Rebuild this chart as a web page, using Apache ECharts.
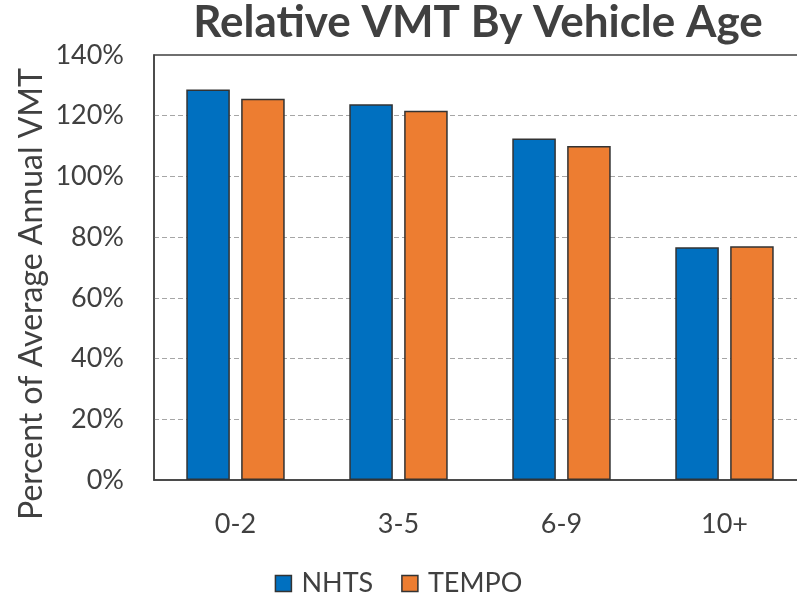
<!DOCTYPE html>
<html>
<head>
<meta charset="utf-8">
<script src="https://cdn.jsdelivr.net/npm/echarts@6/dist/echarts.min.js"></script>
<style>
  html, body { margin: 0; padding: 0; background: #fff; }
  #main { width: 797px; height: 596px; }
</style>
</head>
<body>
<div id="main"></div>
<script>
var categories = ['0-2', '3-5', '6-9', '10+'];
var nhts = [128.6, 123.8, 112.5, 76.7];
var tempo = [125.6, 121.6, 110.0, 77.0];
var yTicks = [0, 20, 40, 60, 80, 100, 120, 140];

var myChart = echarts.init(document.getElementById('main'));
var font = 'Lato';
var option = {
  title: {
    text: 'Relative VMT By Vehicle Age',
    left: 473,
    textAlign: 'center',
    top: -4,
    textStyle: {
      fontFamily: font,
      fontWeight: 'bold',
      fontSize: 44,
      color: '#404040'
    }
  },
  // 竖排的轴标题
  graphic: [{
    type: 'text',
    x: 32,
    y: 294,
    rotation: Math.PI / 2,
    style: {
      text: 'Percent of Average Annual VMT',
      fontFamily: font,
      fontSize: 32,
      fill: '#404040',
      textAlign: 'center',
      textVerticalAlign: 'middle'
    }
  }],
  legend: {
    bottom: -6,
    left: 'center',
    itemWidth: 16,
    itemHeight: 16,
    itemGap: 28,
    icon: 'rect',
    data: ['NHTS', 'TEMPO'],
    itemStyle: { borderColor: '#333333', borderWidth: 1.5 },
    textStyle: {
      fontFamily: font,
      fontSize: 27,
      color: '#404040',
      padding: [0, 0, 0, 5]
    }
  },
  grid: {
    left: 154,
    top: 55,
    width: 652,
    height: 425,
    outerBoundsMode: 'none',
    show: true,
    borderColor: '#404040',
    borderWidth: 1.5
  },
  xAxis: {
    type: 'category',
    data: categories,
    axisTick: { show: false },
    axisLine: { lineStyle: { color: '#404040', width: 1.5 } },
    axisLabel: {
      margin: 31,
      fontFamily: font,
      fontSize: 27,
      color: '#404040'
    }
  },
  yAxis: {
    type: 'value',
    min: yTicks[0],
    max: yTicks[yTicks.length - 1],
    interval: 20,
    axisLine: { show: true, lineStyle: { color: '#404040', width: 1.5 } },
    axisTick: { show: false },
    axisLabel: {
      margin: 30,
      fontFamily: font,
      fontSize: 27,
      color: '#404040',
      formatter: '{value}%'
    },
    splitLine: {
      show: true,
      showMinLine: false,
      showMaxLine: false,
      lineStyle: {
        color: '#A6A6A6',
        type: [5, 3],
        width: 1.2
      }
    }
  },
  series: [{
      name: 'NHTS',
      type: 'bar',
      data: nhts,
      barGap: '26%',
      barCategoryGap: '39.6%',
      itemStyle: {
        color: '#0070C0',
        borderColor: '#333333',
        borderWidth: 1.5
      }
    },
    {
      name: 'TEMPO',
      type: 'bar',
      data: tempo,
      itemStyle: {
        color: '#ED7D31',
        borderColor: '#333333',
        borderWidth: 1.5
      }
    }
  ]
};

myChart.setOption(option);
</script>
</body>
</html>
